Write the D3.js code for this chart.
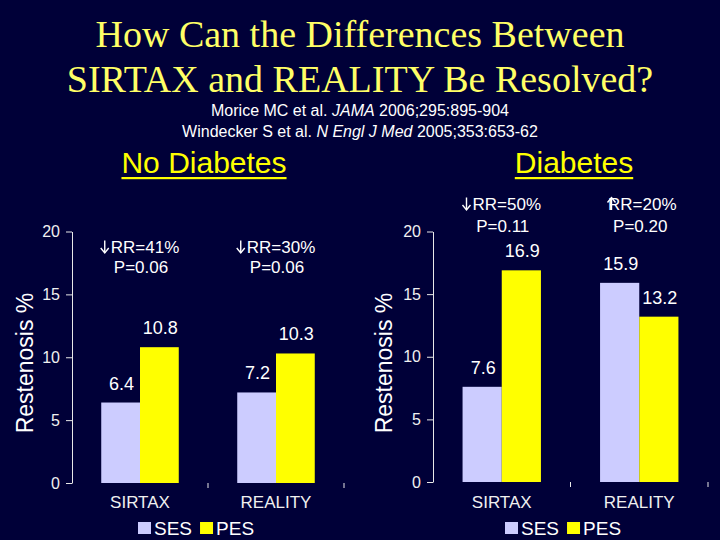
<!DOCTYPE html>
<html>
<head>
<meta charset="utf-8">
<script src="https://cdn.jsdelivr.net/npm/d3@7"></script>
<style>
  html, body { margin: 0; padding: 0; background: #000038; }
  svg { display: block; }
  .serif { font-family: "Liberation Serif", "Times New Roman", Times, "DejaVu Serif", serif; }
</style>
</head>
<body>
<svg id="chart" width="720" height="540"></svg>
<script>
// ---- data ----
const titleLines = ["How Can the Differences Between", "SIRTAX and REALITY Be Resolved?"];
const panelTitles = ["No Diabetes", "Diabetes"];
const categories = ["SIRTAX", "REALITY"];
const seriesNames = ["SES", "PES"];
const sesNoDiabetes = [6.4, 7.2];
const pesNoDiabetes = [10.8, 10.3];
const sesDiabetes = [7.6, 15.9];
const pesDiabetes = [16.9, 13.2];
const rrNoDiabetes = [["down", "RR=41%"], ["down", "RR=30%"]];
const pNoDiabetes = ["P=0.06", "P=0.06"];
const rrDiabetes = [["down", "RR=50%"], ["up", "RR=20%"]];
const pDiabetes = ["P=0.11", "P=0.20"];
const yTicks = [0, 5, 10, 15, 20];
const yLabel = "Restenosis %";

// ---- styles ----
const BG = "#000038";
const SES_COLOR = "#ccccff";
const PES_COLOR = "#ffff00";
const TEXT = "#ffffff";
const SANS = "'Liberation Sans', Arial, sans-serif";

const svg = d3.select("#chart");
svg.append("rect").attr("width", 720).attr("height", 540).attr("fill", BG);

// Title
svg.append("g").selectAll("text").data(titleLines).join("text")
  .attr("class", "serif")
  .attr("x", 360).attr("y", (d, i) => 47 + i * 45)
  .attr("text-anchor", "middle")
  .attr("font-size", 38)
  .attr("fill", "#ffff66").text(d => d);

// Citations
const cit = svg.append("g").attr("font-family", SANS).attr("font-size", 16).attr("fill", TEXT).attr("text-anchor", "middle");
const c1 = cit.append("text").attr("x", 360).attr("y", 116);
c1.append("tspan").text("Morice MC et al. ");
c1.append("tspan").attr("font-style", "italic").text("JAMA");
c1.append("tspan").text(" 2006;295:895-904");
const c2 = cit.append("text").attr("x", 360).attr("y", 137);
c2.append("tspan").text("Windecker S et al. ");
c2.append("tspan").attr("font-style", "italic").text("N Engl J Med");
c2.append("tspan").text(" 2005;353:653-62");

const panels = [
  { title: panelTitles[0], titleX: 204, axisX: 72, rightX: 344, y0: 483, y20: 231.5,
    ses: sesNoDiabetes, pes: pesNoDiabetes, rr: rrNoDiabetes, p: pNoDiabetes,
    rrY: 253, pY: 273, labelX: 33, labelY: 363, legendX: 138 },
  { title: panelTitles[1], titleX: 574, axisX: 433, rightX: 708, y0: 482, y20: 231.5,
    ses: sesDiabetes, pes: pesDiabetes, rr: rrDiabetes, p: pDiabetes,
    rrY: 210, pY: 232, labelX: 392, labelY: 363, legendX: 505 }
];

function arrowPath(g, x, yBase, h, dir, color) {
  // thin arrow like the Symbol-font glyph
  const top = yBase - h;
  const tipY = dir === "down" ? yBase : top;
  const tailY = dir === "down" ? top : yBase;
  const s = dir === "down" ? -1 : 1;
  g.append("line").attr("x1", x).attr("x2", x).attr("y1", tailY).attr("y2", tipY)
    .attr("stroke", color).attr("stroke-width", 1.4);
  g.append("path")
    .attr("d", `M${x - 4},${tipY + s * 5} L${x},${tipY} L${x + 4},${tipY + s * 5}`)
    .attr("fill", "none").attr("stroke", color).attr("stroke-width", 1.4);
}

panels.forEach(P => {
  const g = svg.append("g");

  // panel heading (underlined)
  const ht = g.append("text").attr("x", P.titleX).attr("y", 173)
    .attr("text-anchor", "middle").attr("font-family", SANS).attr("font-size", 30)
    .attr("fill", PES_COLOR).text(P.title);
  const bb = ht.node().getBBox();
  g.append("rect").attr("x", bb.x).attr("y", 177).attr("width", bb.width).attr("height", 2.2).attr("fill", PES_COLOR);

  const y = d3.scaleLinear().domain([0, 20]).range([P.y0, P.y20]);
  const x0 = d3.scaleBand().domain(categories).range([P.axisX, P.rightX])
    .paddingInner(0.43).paddingOuter(0.215);
  const x1 = d3.scaleBand().domain(seriesNames).range([0, x0.bandwidth()]);

  // y axis
  const yAxis = d3.axisLeft(y).tickValues(yTicks).tickSize(6).tickSizeOuter(0).tickPadding(6);
  const ag = g.append("g").attr("transform", `translate(${P.axisX},0)`).call(yAxis);
  ag.selectAll("path, line").attr("stroke", "#e8e8e8").attr("stroke-width", 1);
  ag.selectAll("text").attr("font-family", SANS).attr("font-size", 16).attr("fill", "#f0f0f0");

  // category separators (x-axis ticks)
  const step = x0.step();
  const seps = categories.map((c, i) => P.axisX + step * (i + 1));
  g.selectAll("line.sep").data(seps).join("line")
    .attr("x1", d => d).attr("x2", d => d).attr("y1", P.y0).attr("y2", P.y0 + 5)
    .attr("stroke", "#e8e8e8");

  // bars
  const rows = categories.map((c, i) => ({ cat: c, vals: [P.ses[i], P.pes[i]] }));
  const grp = g.selectAll("g.cat").data(rows).join("g")
    .attr("transform", d => `translate(${x0(d.cat)},0)`);
  grp.selectAll("rect").data(d => d.vals.map((v, j) => ({ s: seriesNames[j], v })))
    .join("rect")
    .attr("x", d => x1(d.s)).attr("width", x1.bandwidth())
    .attr("y", d => y(d.v)).attr("height", d => y(0) - y(d.v))
    .attr("fill", d => d.s === "SES" ? SES_COLOR : PES_COLOR);
  grp.selectAll("text.val").data(d => d.vals.map((v, j) => ({ s: seriesNames[j], v })))
    .join("text")
    .attr("x", d => x1(d.s) + x1.bandwidth() / 2 + 1).attr("y", d => y(d.v) - 13)
    .attr("text-anchor", "middle").attr("font-family", SANS).attr("font-size", 18)
    .attr("fill", TEXT).text(d => d.v.toFixed(1));

  // category labels
  g.selectAll("text.cat").data(categories).join("text")
    .attr("x", d => x0(d) + x0.bandwidth() / 2).attr("y", 508)
    .attr("text-anchor", "middle").attr("font-family", SANS).attr("font-size", 17)
    .attr("fill", "#f0f0f0").text(d => d);

  // RR / P annotations
  categories.forEach((c, i) => {
    const cx = x0(c) + x0.bandwidth() / 2;
    const dir = P.rr[i][0];
    const shift = dir === "down" ? 5 : 3;
    const t = g.append("text").attr("x", cx + shift).attr("y", P.rrY)
      .attr("text-anchor", "middle").attr("font-family", SANS).attr("font-size", 17)
      .attr("fill", TEXT).text(P.rr[i][1]);
    const tw = t.node().getComputedTextLength();
    const left = cx + shift - tw / 2;
    const ax = dir === "down" ? left - 6 : left + 3.5;
    arrowPath(g, ax, P.rrY, 12.5, dir, TEXT);
    g.append("text").attr("x", cx + 1).attr("y", P.pY)
      .attr("text-anchor", "middle").attr("font-family", SANS).attr("font-size", 17)
      .attr("fill", TEXT).text(P.p[i]);
  });

  // y label
  g.append("text").attr("transform", `translate(${P.labelX},${P.labelY}) rotate(-90)`)
    .attr("text-anchor", "middle").attr("font-family", SANS).attr("font-size", 23)
    .attr("fill", TEXT).text(yLabel);

  // legend
  const lg = g.append("g").attr("transform", `translate(${P.legendX},0)`);
  let lx = 0;
  seriesNames.forEach((s, j) => {
    lg.append("rect").attr("x", lx).attr("y", 522).attr("width", 13).attr("height", 12)
      .attr("fill", s === "SES" ? SES_COLOR : PES_COLOR);
    const tt = lg.append("text").attr("x", lx + 16).attr("y", 535)
      .attr("font-family", SANS).attr("font-size", 19).attr("fill", TEXT).text(s);
    lx += 16 + tt.node().getComputedTextLength() + 8;
  });
});
</script>
</body>
</html>
